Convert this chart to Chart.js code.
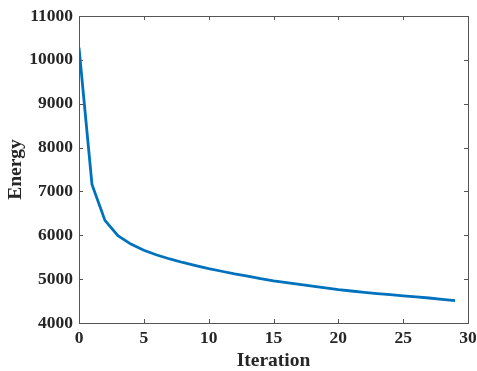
<!DOCTYPE html>
<html>
<head>
<meta charset="utf-8">
<script src="https://cdn.jsdelivr.net/npm/chart.js@4.4.0/dist/chart.umd.js"></script>
<style>
    html, body { margin: 0; padding: 0; background: #fff; }
    #wrap { width: 477px; height: 371px; }
</style>
</head>
<body>
<div id="wrap"><canvas id="energy"></canvas></div>
<script>
// Energy per iteration
const iterations = [0, 1, 2, 3, 4, 5, 6, 7, 8, 9, 10, 11, 12, 13, 14,
                    15, 16, 17, 18, 19, 20, 21, 22, 23, 24, 25, 26, 27, 28, 29];
const energy = [10280, 7160, 6340, 5990, 5800, 5660, 5550, 5460, 5380, 5310,
                5240, 5180, 5120, 5070, 5010, 4960, 4920, 4880, 4840, 4800,
                4760, 4730, 4700, 4670, 4645, 4620, 4595, 4570, 4540, 4510];
const xTicks = [0, 5, 10, 15, 20, 25, 30];
const yTicks = [4000, 5000, 6000, 7000, 8000, 9000, 10000, 11000];

const axisColor = '#555555';
const textColor = '#262626';
const serif = "'Liberation Serif', 'Times New Roman', serif";

// box frame with inward tick marks on all four sides
const boxAxes = {
    id: 'boxAxes',
    afterDraw(chart) {
        const { ctx, chartArea: a, scales } = chart;
        ctx.save();
        ctx.strokeStyle = axisColor;
        ctx.lineWidth = 1;
        ctx.strokeRect(a.left + 0.5, a.top + 0.5, a.right - a.left, a.bottom - a.top);
        ctx.beginPath();
        xTicks.forEach(v => {
            const px = Math.round(scales.x.getPixelForValue(v)) + 0.5;
            ctx.moveTo(px, a.bottom); ctx.lineTo(px, a.bottom - 4);
            ctx.moveTo(px, a.top); ctx.lineTo(px, a.top + 4);
        });
        yTicks.forEach(v => {
            const py = Math.round(scales.y.getPixelForValue(v)) + 0.5;
            ctx.moveTo(a.left, py); ctx.lineTo(a.left + 4, py);
            ctx.moveTo(a.right, py); ctx.lineTo(a.right - 4, py);
        });
        ctx.stroke();
        ctx.restore();
    }
};

new Chart(document.getElementById('energy'), {
    type: 'line',
    data: {
        datasets: [{
            data: iterations.map((x, i) => ({ x: x, y: energy[i] })),
            borderColor: '#0072BD',
            borderWidth: 2.8,
            pointRadius: 0,
            tension: 0,
            fill: false
        }]
    },
    options: {
        responsive: true,
        maintainAspectRatio: false,
        animation: false,
        layout: { padding: { top: 16, right: 9, left: 0, bottom: 0 } },
        plugins: { legend: { display: false }, tooltip: { enabled: false } },
        scales: {
            x: {
                type: 'linear',
                min: 0,
                max: 30,
                afterBuildTicks: s => { s.ticks = xTicks.map(v => ({ value: v })); },
                afterFit: s => {
                    s.height = 48;
                    s.paddingLeft = 0;
                    s.paddingRight = 0;
                },
                grid: { display: false, drawTicks: false },
                border: { display: false },
                ticks: {
                    color: textColor,
                    padding: 5,
                    maxRotation: 0,
                    callback: v => String(v),
                    font: { family: serif, size: 17.5, weight: 'bold' }
                },
                title: {
                    display: true,
                    text: 'Iteration',
                    color: textColor,
                    padding: { top: 0, bottom: -2 },
                    font: { family: serif, size: 19.5, weight: 'bold' }
                }
            },
            y: {
                min: 4000,
                max: 11000,
                afterBuildTicks: s => { s.ticks = yTicks.map(v => ({ value: v })); },
                afterFit: s => {
                    s.width = 79;
                    s.paddingTop = 0;
                    s.paddingBottom = 0;
                },
                grid: { display: false, drawTicks: false },
                border: { display: false },
                ticks: {
                    color: textColor,
                    padding: 6,
                    callback: v => String(v),
                    font: { family: serif, size: 17.5, weight: 'bold' }
                },
                title: {
                    display: true,
                    text: 'Energy',
                    color: textColor,
                    padding: { top: 4, bottom: 0 },
                    font: { family: serif, size: 19.5, weight: 'bold' }
                }
            }
        }
    },
    plugins: [boxAxes]
});
</script>
</body>
</html>
